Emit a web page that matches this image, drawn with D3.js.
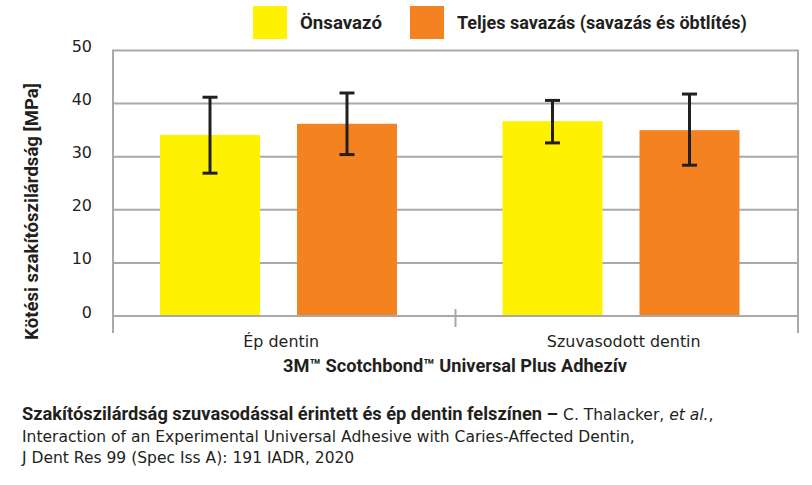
<!DOCTYPE html>
<html><head><meta charset="utf-8">
<script src="https://cdn.jsdelivr.net/npm/d3@7"></script>
<style>body{margin:0;background:#fff}svg{display:block}text{font-family:"DejaVu Sans",Roboto,sans-serif;fill:#231f20}.b{font-family:Roboto,"DejaVu Sans",sans-serif;font-weight:bold}</style>
</head><body><svg id="c" width="812" height="485"></svg>
<script>
const categories = ["Ép dentin", "Szuvasodott dentin"];
const seriesNames = ["Önsavazó", "Teljes savazás (savazás és öbtlítés)"];
const seriesColors = ["#fff200", "#f58220"];
const onsavazo = [34.1, 36.7];
const teljes = [36.2, 35.0];
const onsavazoLow = [26.9, 32.6];
const onsavazoHigh = [41.2, 40.6];
const teljesLow = [30.4, 28.4];
const teljesHigh = [42.0, 41.8];
const yTicks = [0, 10, 20, 30, 40, 50];

const values = [onsavazo, teljes];
const lows = [onsavazoLow, teljesLow];
const highs = [onsavazoHigh, teljesHigh];

const svg = d3.select("#c");
const L = 113, R = 798, T = 50.5, B = 316;
const y = d3.scaleLinear().domain([0, 50]).range([B, T]);
const x0 = d3.scaleBand().domain(categories).range([L, R]);
const x1 = d3.scaleBand().domain(d3.range(2)).range([47, 284]).paddingInner(0.27);
const grey = "#a7a9ac";

function fit(sel, w) {
  sel.attr("font-size", 20);
  const len = sel.node().getComputedTextLength();
  const s = 20 * w / len;
  sel.attr("font-size", s);
  return s;
}

svg.append("g").selectAll("line").data(yTicks).join("line")
  .attr("x1", L).attr("x2", R).attr("y1", d => y(d)).attr("y2", d => y(d))
  .attr("stroke", grey).attr("stroke-width", 2);
svg.append("line").attr("x1", L).attr("x2", L).attr("y1", T - 1).attr("y2", 333).attr("stroke", grey).attr("stroke-width", 2);
svg.append("line").attr("x1", R).attr("x2", R).attr("y1", T - 1).attr("y2", 333).attr("stroke", grey).attr("stroke-width", 2);
svg.append("line").attr("x1", x0.step() + L).attr("x2", x0.step() + L).attr("y1", 309).attr("y2", 327).attr("stroke", grey).attr("stroke-width", 2);

svg.append("g").selectAll("text").data(yTicks).join("text")
  .attr("x", 92).attr("y", d => y(d) + 1.5)
  .attr("text-anchor", "end").attr("font-size", 16).text(d => d);

const data = [];
categories.forEach((c, i) => values.forEach((s, j) => data.push({c, j, v: s[i], lo: lows[j][i], hi: highs[j][i]})));
svg.append("g").selectAll("rect").data(data).join("rect")
  .attr("x", d => x0(d.c) + x1(d.j)).attr("width", x1.bandwidth())
  .attr("y", d => y(d.v)).attr("height", d => y(0) - y(d.v))
  .attr("fill", d => seriesColors[d.j]);
svg.append("line").attr("x1", L).attr("x2", R).attr("y1", B).attr("y2", B).attr("stroke", grey).attr("stroke-width", 2);

const eb = svg.append("g").attr("stroke", "#231f20").attr("stroke-width", 3);
data.forEach(d => {
  const cx = x0(d.c) + x1(d.j) + x1.bandwidth() / 2;
  eb.append("line").attr("x1", cx).attr("x2", cx).attr("y1", y(d.hi)).attr("y2", y(d.lo));
  eb.append("line").attr("x1", cx - 7.5).attr("x2", cx + 7.5).attr("y1", y(d.hi)).attr("y2", y(d.hi));
  eb.append("line").attr("x1", cx - 7.5).attr("x2", cx + 7.5).attr("y1", y(d.lo)).attr("y2", y(d.lo));
});

const cl = svg.append("g").selectAll("text").data(categories).join("text")
  .attr("x", d => x0(d) + x0.bandwidth() / 2 - 3).attr("y", 347)
  .attr("text-anchor", "middle").text(d => d);
const cs = fit(d3.select(cl.nodes()[0]), 76);
cl.attr("font-size", cs);

const xt = svg.append("text").attr("class", "b").attr("x", 455).attr("y", 372).attr("text-anchor", "middle")
  .text("3M™ Scotchbond™ Universal Plus Adhezív");
fit(xt, 344);

const yt = svg.append("text").attr("class", "b").attr("transform", "translate(38,211.5) rotate(-90)").attr("text-anchor", "middle")
  .text("Kötési szakítószilárdság [MPa]");
fit(yt, 257);

const lx = [253, 410];
const lw = [82, 290];
seriesNames.forEach((n, j) => {
  svg.append("rect").attr("x", lx[j]).attr("y", 6).attr("width", 34).attr("height", 33).attr("fill", seriesColors[j]);
  const t = svg.append("text").attr("class", "b").attr("x", lx[j] + 47).attr("y", 29).text(n);
  fit(t, lw[j]);
});

const f2 = svg.append("text").attr("x", 22).attr("y", 442).text("Interaction of an Experimental Universal Adhesive with Caries-Affected Dentin,");
const fs = fit(f2, 613);
const f1 = svg.append("text").attr("x", 22).attr("y", 420).attr("font-size", fs);
const fb = f1.append("tspan").attr("class", "b").text("Szakítószilárdság szuvasodással érintett és ép dentin felszínen –");
const r1 = f1.append("tspan").text(" C. Thalacker, ");
const r2 = f1.append("tspan").attr("font-style", "italic").text("et al.");
const r3 = f1.append("tspan").text(",");
const rest = r1.node().getComputedTextLength() + r2.node().getComputedTextLength() + r3.node().getComputedTextLength();
fb.attr("font-size", 20);
const bl = fb.node().getComputedTextLength();
fb.attr("font-size", 20 * (692 - rest) / bl);
svg.append("text").attr("x", 22).attr("y", 463).attr("font-size", fs).text("J Dent Res 99 (Spec Iss A): 191 IADR, 2020");
</script></body></html>
